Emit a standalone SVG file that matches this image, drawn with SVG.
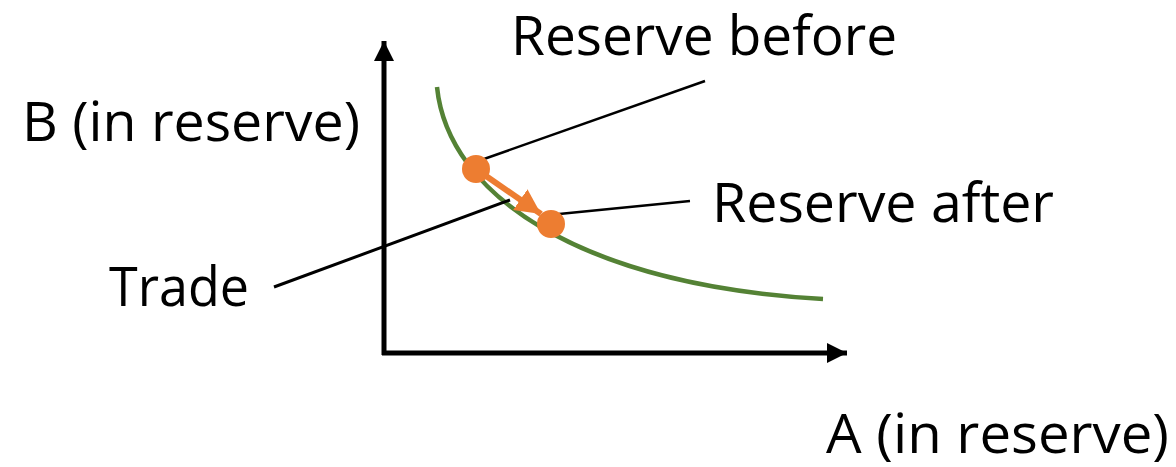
<svg xmlns="http://www.w3.org/2000/svg" width="1176" height="467" viewBox="0 0 1176 467">
<style>
.t{font-family:"Open Sans","Liberation Sans",sans-serif;font-size:55px;fill:#000}
.lead{stroke:#000;fill:none}
</style>
<defs>
<marker id="ah" viewBox="0 0 10 10" refX="10" refY="5" markerWidth="4" markerHeight="4" orient="auto" markerUnits="strokeWidth"><path d="M0,0 L10,5 L0,10 z" fill="#000"/></marker>
<marker id="oh" viewBox="0 0 10 10" refX="10" refY="5" markerWidth="4.2" markerHeight="4.2" orient="auto" markerUnits="strokeWidth"><path d="M0,0 L10,5 L0,10 z" fill="#ED7D31"/></marker>
</defs>
<rect width="1176" height="467" fill="#fff"/>
<g id="axes">
<line x1="384" y1="355" x2="384" y2="41" stroke="#000" stroke-width="5" marker-end="url(#ah)"/>
<line x1="382" y1="353" x2="847" y2="353" stroke="#000" stroke-width="5" marker-end="url(#ah)"/>
</g>
<g id="curve">
<path d="M437,87 C448,195 580,285 823,299" fill="none" stroke="#548235" stroke-width="4.5"/>
</g>
<g id="connectors">
<line class="lead" x1="484" y1="159" x2="705" y2="81" stroke-width="2.5"/>
<line class="lead" x1="559" y1="214" x2="690" y2="201" stroke-width="2.5"/>
<line class="lead" x1="274" y1="287" x2="510" y2="200" stroke-width="3"/>
<line x1="476" y1="169" x2="541" y2="214" stroke="#ED7D31" stroke-width="6" marker-end="url(#oh)"/>
</g>
<g id="dot-before"><circle cx="476" cy="169" r="14" fill="#ED7D31"/></g>
<g id="dot-after"><circle cx="551" cy="224" r="14" fill="#ED7D31"/></g>
<g id="label-before"><text class="t" x="511" y="55" font-size="54" textLength="386" lengthAdjust="spacingAndGlyphs">Reserve before</text></g>
<g id="label-b"><text class="t" x="22" y="141" textLength="338" lengthAdjust="spacingAndGlyphs">B (in reserve)</text></g>
<g id="label-after"><text class="t" x="712" y="222" textLength="342" lengthAdjust="spacingAndGlyphs">Reserve after</text></g>
<g id="label-trade"><text class="t" x="109" y="306" textLength="140" lengthAdjust="spacingAndGlyphs">Trade</text></g>
<g id="label-a"><text class="t" x="826" y="453" textLength="343" lengthAdjust="spacingAndGlyphs">A (in reserve)</text></g>
</svg>
